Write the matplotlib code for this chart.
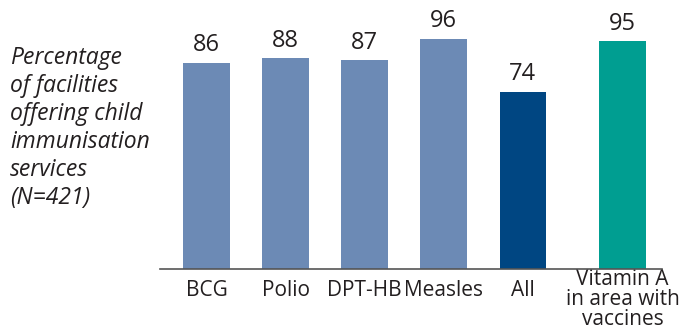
import matplotlib.pyplot as plt

labels = ['BCG', 'Polio', 'DPT-HB', 'Measles', 'All', 'Vitamin A\nin area with\nvaccines']
values = [86, 88, 87, 96, 74, 95]
colors = ['#6c8ab5', '#6c8ab5', '#6c8ab5', '#6c8ab5', '#004682', '#009e91']

plt.rcParams['font.family'] = ['Open Sans', 'DejaVu Sans']
txt = '#231f20'

fig = plt.figure(figsize=(6.91, 3.33), dpi=100)
ax = fig.add_axes([160/691, 1 - 269.3/333, 502/691, 269.3/333])

x = [0, 1, 2, 3, 4, 5.26]
ax.bar(x, values, width=0.59, color=colors)
for xi, v in zip(x, values):
    ax.text(xi, v + 2.3, str(v), ha='center', va='bottom', fontsize=17, color=txt)

ax.set_xlim(-0.59, 5.76)
ax.set_ylim(0, 112.2)
ax.set_xticks(x)
ax.set_xticklabels(labels, fontsize=15, color=txt, linespacing=0.92)
ax.tick_params(axis='x', length=0, pad=8)
# the last label sits a bit higher in the original
ax.xaxis.get_major_ticks()[5].set_pad(0)
ax.set_yticks([])
for s in ['top', 'right', 'left']:
    ax.spines[s].set_visible(False)
ax.spines['bottom'].set_color('#555555')
ax.spines['bottom'].set_linewidth(1.2)

fig.text(10/691, 1 - 46/333,
         'Percentage\nof facilities\noffering child\nimmunisation\nservices\n(N=421)',
         ha='left', va='top', fontsize=16.5, style='italic', color=txt, linespacing=1.22)

fig.savefig('out.png', dpi=100)
